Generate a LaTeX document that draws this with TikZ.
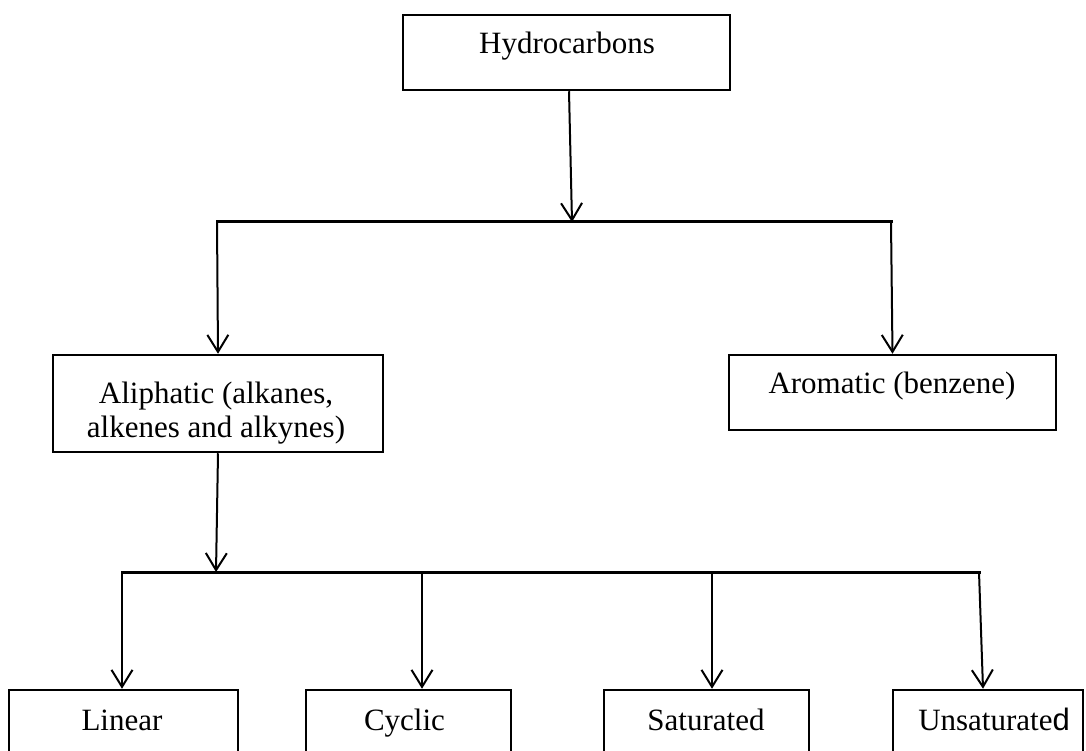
\documentclass[tikz,border=0pt]{standalone}
\usepackage{fontspec}
\setmainfont{Liberation Serif}
\setsansfont{Liberation Sans}
\usetikzlibrary{arrows.meta}
\tikzset{
  box/.style={draw=black, line width=2.5pt, inner sep=0pt, rectangle},
  txt/.style={anchor=base, inner sep=0pt, font=\fontsize{31}{34}\selectfont, align=center},
  arr/.style={draw=black, line width=2pt, -{Straight Barb[length=17pt,width=21pt,line width=2pt]}},
  hline/.style={draw=black, line width=3pt, line cap=rect}
}
\begin{document}
\begin{tikzpicture}[x=1pt,y=-1pt]
\useasboundingbox (0,0) rectangle (1086,751);
\clip (0,0) rectangle (1086,751);
\fill[white] (0,0) rectangle (1086,751);
% boxes
\node[box, minimum width=327pt, minimum height=75pt] (hyd) at (566.5,52.5) {};
\node[box, minimum width=330pt, minimum height=97pt] (ali) at (218,403.5) {};
\node[box, minimum width=327pt, minimum height=75pt] (aro) at (892.5,392.5) {};
\node[box, minimum width=229pt, minimum height=100pt] (lin) at (123.5,740) {};
\node[box, minimum width=205pt, minimum height=100pt] (cyc) at (408.5,740) {};
\node[box, minimum width=205pt, minimum height=100pt] (sat) at (706.5,740) {};
\node[box, minimum width=190pt, minimum height=100pt] (uns) at (988,740) {};
% texts
\node[txt] (thyd) at (567,54) {Hydrocarbons};
\node[txt] (tali) at (216,437) {Aliphatic (alkanes,\\alkenes and alkynes)};
\node[txt] (taro) at (892,393) {Aromatic (benzene)};
\node[txt] (tlin) at (122,730) {Linear};
\node[txt] (tcyc) at (404.5,730) {Cyclic};
\node[txt] (tsat) at (706,730) {Saturated};
\node[txt] (tuns) at (994,730) {Unsaturate{\sffamily d}};
% junction coordinates
\coordinate (h1) at (572,222);
\coordinate (bL) at (217,222);
\coordinate (bR) at (891,222);
\coordinate (h2) at (216,572);
\coordinate (c1) at (122,572);
\coordinate (c2) at (422,572);
\coordinate (c3) at (712,572);
\coordinate (c4) at (979,572);
% top level
\draw[hline] (bL) -- (bR);
\draw[arr] ([xshift=2.5pt]hyd.south) -- (h1);
\draw[arr] (bL) -- (ali.north);
\draw[arr] (bR) -- (aro.north);
% second level
\draw[hline] (c1) -- (c4);
\draw[arr] (ali.south) -- (h2);
\draw[arr] (c1) -- (c1 |- lin.north);
\draw[arr] (c2) -- (c2 |- cyc.north);
\draw[arr] (c3) -- (c3 |- sat.north);
\draw[arr] (c4) -- ([xshift=-5pt]uns.north);
\end{tikzpicture}
\end{document}
